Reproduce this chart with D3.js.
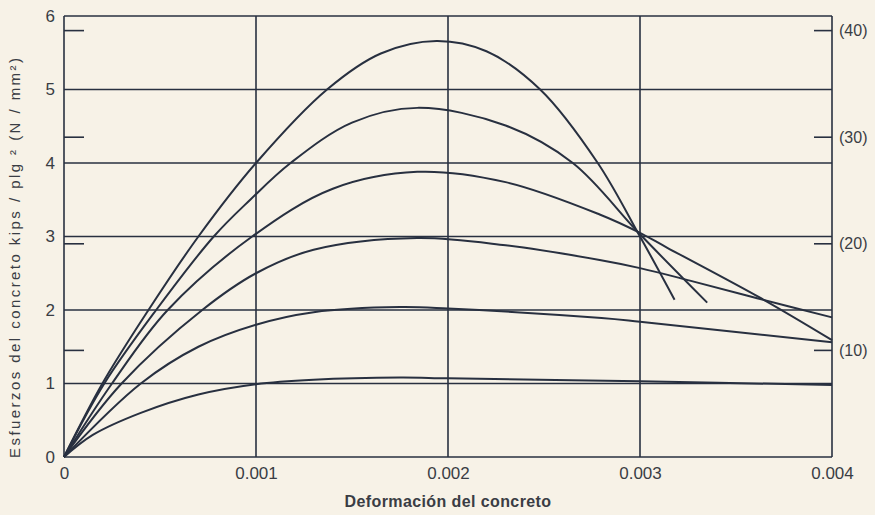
<!DOCTYPE html>
<html>
<head>
<meta charset="utf-8">
<script src="https://d3js.org/d3.v7.min.js"></script>
<style>
  body { margin: 0; background: #f7f2e7; }
  svg { display: block; background: #f7f2e7; }
  .tick text { font-family: "Liberation Sans", Arial, sans-serif; fill: #3a3d44; }
</style>
</head>
<body>
<svg class="chart" width="875" height="515"></svg>
<script>

// strain (deformación) vs stress in kips/plg²
var curveA = [[0,0],[0.0002,1.0],[0.00044,2],[0.0007,3],[0.001,4],[0.00137,5],[0.00165,5.49],[0.00194,5.66],[0.0022,5.52],[0.00248,5],[0.00278,4],[0.003,3.0],[0.00318,2.14]]
var curveB = [[0,0],[0.00021,1],[0.00048,2],[0.00078,3],[0.00097,3.5],[0.00118,4],[0.0015,4.55],[0.00184,4.75],[0.0023,4.51],[0.00265,4],[0.003,3.03],[0.00335,2.1]]
var curveC = [[0,0],[0.00025,1],[0.00054,2],[0.00098,3],[0.0014,3.65],[0.00184,3.88],[0.0023,3.74],[0.00279,3.3],[0.003,3.05],[0.00314,2.85],[0.00363,2.16],[0.004,1.59]]
var curveD = [[0,0],[0.0003,1],[0.00072,2],[0.001,2.5],[0.0013,2.82],[0.00184,2.98],[0.0023,2.88],[0.00279,2.68],[0.003,2.57],[0.00326,2.4],[0.00361,2.16],[0.004,1.9]]
var curveE = [[0,0],[0.0004,1],[0.0007,1.5],[0.001,1.8],[0.0013,1.97],[0.00175,2.04],[0.002,2.02],[0.0028,1.89],[0.003,1.84],[0.004,1.56]]
var curveF = [[0,0],[0.00015,0.3],[0.0004,0.6],[0.0007,0.85],[0.001,0.99],[0.0013,1.05],[0.00175,1.08],[0.002,1.07],[0.003,1.03],[0.004,0.98]]
var curves = [curveA, curveB, curveC, curveD, curveE, curveF]

var xTicks = [0, 0.001, 0.002, 0.003, 0.004]
var xTickLabels = ["0", "0.001", "0.002", "0.003", "0.004"]
var yTicks = [0, 1, 2, 3, 4, 5, 6]
var siTicks = [10, 20, 30, 40]   // N/mm²
var KSI_PER_MPA = 1 / 6.895

var ink = "#283040"
var svg = d3.select("svg")

var x = d3.scaleLinear().domain([0, 0.004]).range([64, 832])
var y = d3.scaleLinear().domain([0, 6]).range([457, 16])

// grid
svg.append("g").selectAll("line").data(yTicks)
  .enter().append("line")
  .attr("x1", x(0)).attr("x2", x(0.004))
  .attr("y1", d => y(d)).attr("y2", d => y(d))
  .attr("stroke", ink).attr("stroke-width", 1.6)

svg.append("g").selectAll("line").data(xTicks)
  .enter().append("line")
  .attr("x1", d => x(d)).attr("x2", d => x(d))
  .attr("y1", y(0)).attr("y2", y(6))
  .attr("stroke", ink).attr("stroke-width", 1.6)

// N/mm² ticks, inside both vertical edges
svg.append("g").selectAll("line").data(siTicks)
  .enter().append("line")
  .attr("x1", x(0)).attr("x2", x(0) + 20)
  .attr("y1", d => y(d * KSI_PER_MPA)).attr("y2", d => y(d * KSI_PER_MPA))
  .attr("stroke", ink).attr("stroke-width", 1.6)

svg.append("g").selectAll("line").data(siTicks)
  .enter().append("line")
  .attr("x1", x(0.004) - 18).attr("x2", x(0.004))
  .attr("y1", d => y(d * KSI_PER_MPA)).attr("y2", d => y(d * KSI_PER_MPA))
  .attr("stroke", ink).attr("stroke-width", 1.6)

// axes labels
var yAxis = d3.axisLeft(y).tickValues(yTicks).tickSize(0).tickPadding(9).tickFormat(d3.format("d"))
svg.append("g").attr("transform", "translate(" + x(0) + ",0)").call(yAxis)
  .call(g => g.select(".domain").remove())
  .selectAll("text").style("font-size", "17px")

var xAxis = d3.axisBottom(x).tickValues(xTicks).tickSize(0).tickPadding(10)
  .tickFormat((d, i) => xTickLabels[i])
svg.append("g").attr("transform", "translate(0," + y(0) + ")").call(xAxis)
  .call(g => g.select(".domain").remove())
  .selectAll("text").style("font-size", "17px")

var siAxis = d3.axisRight(y).tickValues(siTicks.map(d => d * KSI_PER_MPA)).tickSize(0).tickPadding(7)
  .tickFormat((d, i) => "(" + siTicks[i] + ")")
svg.append("g").attr("transform", "translate(" + x(0.004) + ",0)").call(siAxis)
  .call(g => g.select(".domain").remove())
  .selectAll("text").style("font-size", "16px")

// curves
var line = d3.line().x(d => x(d[0])).y(d => y(d[1])).curve(d3.curveCatmullRom.alpha(0.5))
svg.append("g").selectAll("path").data(curves)
  .enter().append("path")
  .attr("d", line)
  .attr("fill", "none")
  .attr("stroke", ink)
  .attr("stroke-width", 2)

// titles
svg.append("text")
  .attr("transform", "translate(20,258) rotate(-90)")
  .attr("text-anchor", "middle")
  .attr("textLength", 400)
  .attr("lengthAdjust", "spacing")
  .style("font-family", "'Liberation Sans', Arial, sans-serif")
  .style("font-size", "15px")
  .style("fill", "#3a3d44")
  .text("Esfuerzos del concreto kips / plg ² (N / mm²)")

svg.append("text")
  .attr("x", 448).attr("y", 507)
  .attr("text-anchor", "middle")
  .style("font-family", "'Liberation Sans', Arial, sans-serif")
  .style("font-size", "16px")
  .style("font-weight", "bold")
  .style("letter-spacing", "0.4px")
  .style("fill", "#3a3d44")
  .text("Deformación del concreto")
</script>
</body>
</html>
